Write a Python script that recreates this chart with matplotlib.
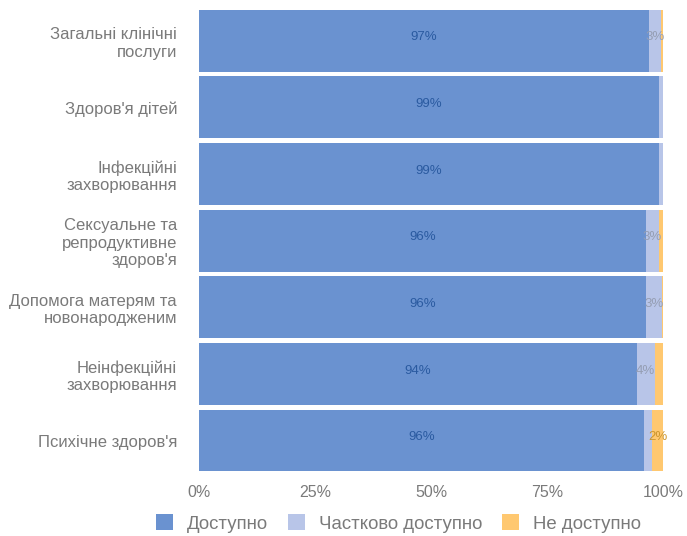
import matplotlib
matplotlib.use("Agg")
import matplotlib.pyplot as plt
import numpy as np

plt.rcParams["font.family"] = ["Liberation Sans", "DejaVu Sans"]

categories = ["Загальні клінічні\nпослуги", "Здоров'я дітей", "Інфекційні\nзахворювання",
              "Сексуальне та\nрепродуктивне\nздоров'я", "Допомога матерям та\nновонародженим",
              "Неінфекційні\nзахворювання", "Психічне здоров'я"]
available = [97.0, 99.1, 99.1, 96.4, 96.3, 94.4, 95.9]
partial = [2.6, 0.9, 0.9, 2.7, 3.4, 3.8, 1.8]
not_available = [0.4, 0.0, 0.0, 0.9, 0.3, 1.8, 2.3]
series_names = ["Доступно", "Частково доступно", "Не доступно"]
xticks = [0, 25, 50, 75, 100]
xticklabels = ["0%", "25%", "50%", "75%", "100%"]

colors = ["#6a92d0", "#b8c5e8", "#ffc870"]
label_colors = ["#2a5aa0", "#959eb3", "#cc962e"]

fig = plt.figure(figsize=(6.87, 5.36), dpi=100)
ax = fig.add_axes([0.29, 0.116, 0.675, 0.87])

y = np.arange(len(categories))
left = np.zeros(len(categories))
for vals, c, lc, name in zip([available, partial, not_available], colors, label_colors, series_names):
    vals = np.array(vals)
    ax.barh(y, vals, left=left, height=0.93, color=c, label=name, edgecolor="none")
    for yi, v, l in zip(y, vals, left):
        if v >= 2:
            ax.text(l + v / 2, yi - 0.05, f"{v:.0f}%", ha="center", va="center", color=lc, fontsize=9.5)
    left = left + vals

ax.set_ylim(len(categories) - 0.5, -0.5)
ax.set_xlim(0, 100)
ax.set_yticks(y)
ax.set_yticklabels(categories, fontsize=12, color="#7a7a7a")
ax.set_xticks(xticks)
ax.set_xticklabels(xticklabels, fontsize=11.5, color="#7a7a7a")
ax.tick_params(length=0)
ax.tick_params(axis="y", pad=16)
ax.tick_params(axis="x", pad=8)
for s in ax.spines.values():
    s.set_visible(False)

leg = fig.legend(loc="lower center", bbox_to_anchor=(0.58, -0.025), ncol=3, frameon=False,
                 fontsize=13.4, handlelength=0.92, handleheight=0.92, columnspacing=1.07, handletextpad=0.75)
for t in leg.get_texts():
    t.set_color("#7a7a7a")

fig.savefig("out.png", dpi=100)
